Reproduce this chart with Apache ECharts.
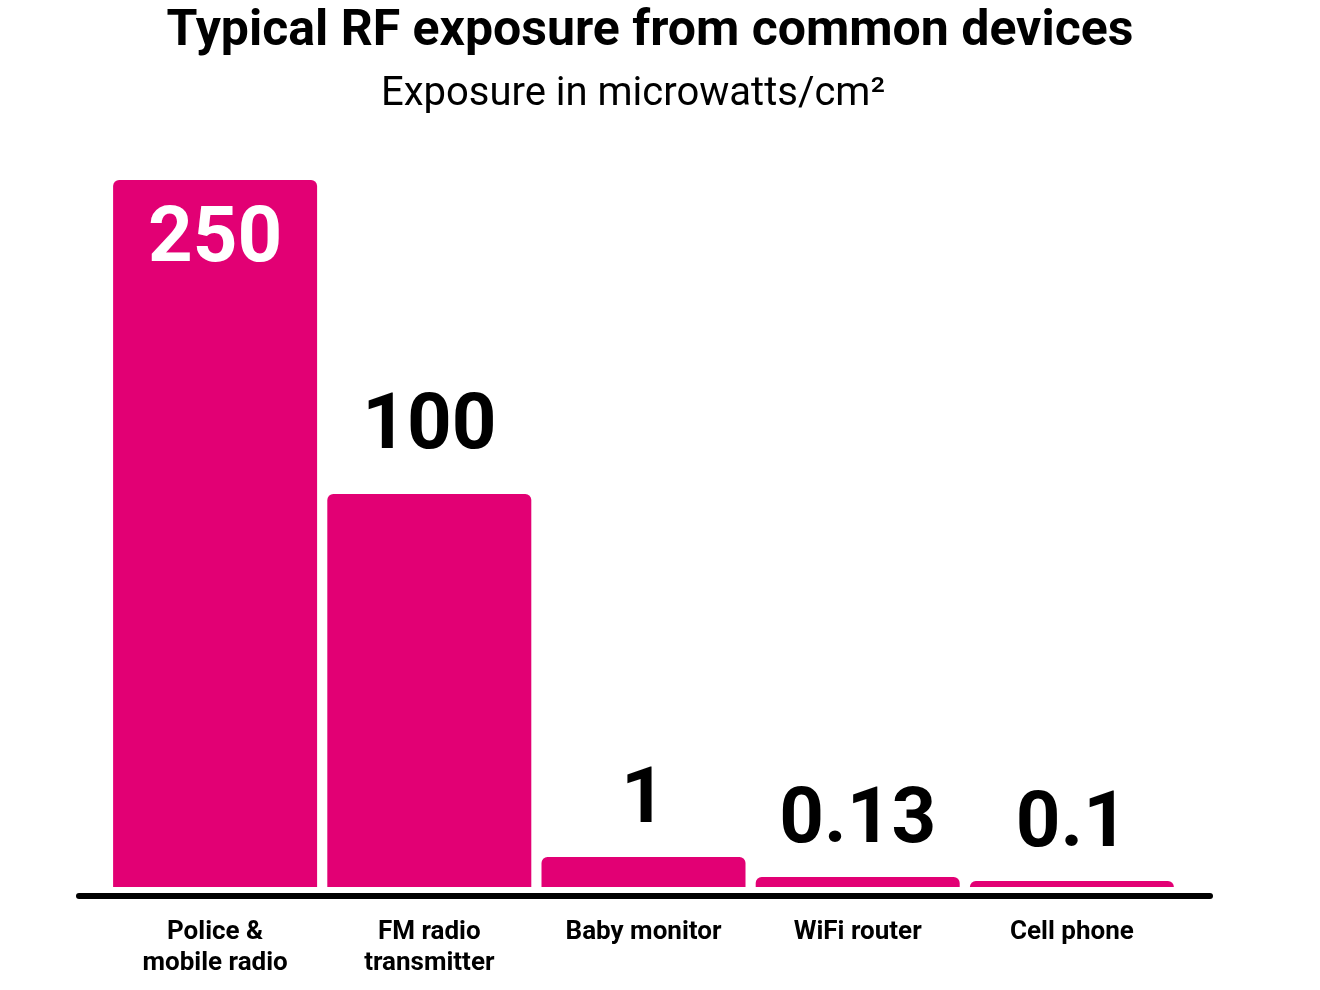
<!DOCTYPE html>
<html><head><meta charset="utf-8">
<script src="https://cdn.jsdelivr.net/npm/echarts@6/dist/echarts.min.js"></script>
<style>html,body{margin:0;background:#fff}#c{width:1320px;height:990px}</style>
</head><body><div id="c"></div>
<script>
const categories = ["Police &\nmobile radio", "FM radio\ntransmitter", "Baby monitor", "WiFi router", "Cell phone"];
const valueLabels = ["250", "100", "1", "0.13", "0.1"];
// Bar heights as drawn in the picture (visual, non-linear scale), in units of the top bar
const barHeights = [250, 139, 10.6, 3.5, 2.1];

const chart = echarts.init(document.getElementById('c'));
const F = 'Roboto, "Liberation Sans", sans-serif';
chart.setOption({
  animation: false,
  title: [
    {text: 'Typical RF exposure from common devices', left: 645, textAlign: 'center', top: 2,
     textStyle: {fontFamily: F, fontSize: 50, fontWeight: 'bold', color: '#000'}},
    {text: 'Exposure in microwatts/cm²', left: 628, textAlign: 'center', top: 70,
     textStyle: {fontFamily: F, fontSize: 40, fontWeight: 'normal', color: '#000'}}
  ],
  grid: {left: 108, right: 141, top: 180, bottom: 103},
  xAxis: {type: 'category', data: categories,
    axisLine: {show: false}, axisTick: {show: false},
    axisLabel: {fontFamily: F, fontSize: 26, fontWeight: 'bold', color: '#000', margin: 30, lineHeight: 31, verticalAlign: 'top'}},
  yAxis: {type: 'value', min: 0, max: 250, show: false},
  series: [{
    type: 'bar', barWidth: 204,
    data: barHeights.map((h, i) => ({
      value: h,
      label: i === 0
        ? {show: true, position: 'insideTop', distance: 22, color: '#fff'}
        : {show: true, position: 'top', distance: i === 1 ? 26 : 16, color: '#000'}
    })),
    itemStyle: {color: '#E20074', borderRadius: [6, 6, 0, 0]},
    label: {fontFamily: F, fontSize: 78, fontWeight: 'bold', formatter: p => valueLabels[p.dataIndex]}
  }],
  graphic: [{type: 'rect', shape: {x: 76, y: 893, width: 1137, height: 6, r: 3}, style: {fill: '#000'}}]
});
</script></body></html>
